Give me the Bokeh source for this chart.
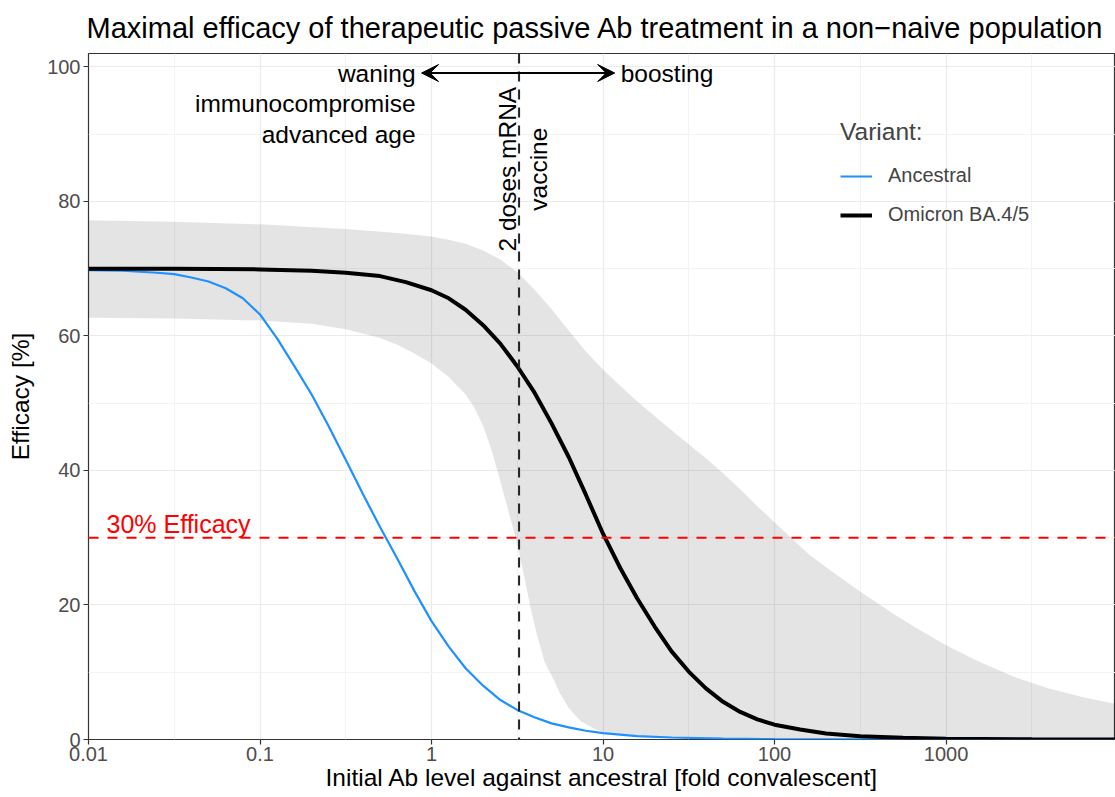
from math import pi
from bokeh.plotting import figure
from bokeh.models import (FixedTicker, Span, Arrow, VeeHead, Label, Legend, LegendItem,
                          Range1d)
from bokeh.core.properties import value
from bokeh.embed import file_html
from bokeh.resources import INLINE

FONT = "Liberation Sans"

# ---------------- data ----------------
x_ticks = [0.01, 0.1, 1, 10, 100, 1000]
x_tick_labels = ["0.01", "0.1", "1", "10", "100", "1000"]
x_minor = [0.0316, 0.316, 3.16, 31.6, 316, 3162]
y_ticks = [0, 20, 40, 60, 80, 100]
y_minor = [10, 30, 50, 70, 90]

# Ancestral variant (median efficacy, %)
anc_x = [0.01, 0.0158, 0.0251, 0.0316, 0.0398, 0.0501, 0.0631, 0.0794, 0.1, 0.126, 0.158,
         0.2, 0.251, 0.316, 0.398, 0.501, 0.631, 0.794, 1, 1.26, 1.58, 2.0, 2.51, 3.16,
         3.98, 5.01, 6.31, 7.94, 10, 15.8, 25.1, 50.1, 100, 1000, 9730]
anc_y = [69.8, 69.7, 69.4, 69.2, 68.7, 68.1, 67.1, 65.6, 63.2, 59.6, 55.6,
         51.3, 46.6, 41.6, 36.5, 31.6, 26.9, 22.1, 17.6, 13.8, 10.6, 8.0, 5.9, 4.4,
         3.3, 2.4, 1.8, 1.3, 0.95, 0.5, 0.3, 0.12, 0.05, 0.0, 0.0]

# Omicron BA.4/5 (median efficacy, %)
omi_x = [0.01, 0.0316, 0.1, 0.2, 0.316, 0.501, 0.708, 1, 1.26, 1.58, 2.0, 2.51, 3.16,
         3.98, 5.01, 6.31, 7.94, 10, 12.6, 15.8, 20, 25.1, 31.6, 39.8, 50.1, 63.1, 79.4,
         100, 141, 200, 316, 562, 1000, 3162, 9730]
omi_y = [70.0, 70.0, 69.9, 69.7, 69.4, 68.9, 68.0, 66.8, 65.6, 63.9, 61.6, 58.9, 55.5,
         51.6, 47.0, 42.0, 36.4, 30.6, 25.5, 21.0, 16.8, 13.1, 10.1, 7.6, 5.6, 4.1, 3.0,
         2.2, 1.5, 0.9, 0.5, 0.25, 0.12, 0.03, 0.0]

# Omicron BA.4/5 uncertainty band (upper / lower edge, %)
band_up_x = [0.01, 0.0316, 0.1, 0.316, 0.631, 1, 1.26, 1.58, 2.0, 2.51, 3.16, 3.98, 5.01,
             6.31, 7.94, 10, 12.6, 15.8, 20, 25.1, 31.6, 39.8, 50.1, 63.1, 79.4, 100, 126,
             158, 200, 251, 316, 398, 501, 631, 794, 1000, 1585, 2512, 3981, 6310, 9730]
band_up_y = [77.2, 77.0, 76.6, 75.9, 75.3, 74.8, 74.3, 73.7, 72.7, 71.4, 69.5, 66.9, 64.0,
             60.8, 57.7, 55.0, 52.6, 50.3, 48.1, 46.0, 43.9, 41.8, 39.6, 37.2, 34.7, 32.3,
             29.9, 27.6, 25.6, 23.8, 22.0, 20.3, 18.6, 17.0, 15.5, 14.0, 11.5, 9.3, 7.6,
             6.3, 5.3]
band_lo_x = [0.01, 0.0316, 0.1, 0.2, 0.316, 0.501, 0.631, 0.794, 1, 1.26, 1.58, 1.78, 2.0,
             2.24, 2.51, 2.82, 3.09, 3.39, 3.8, 4.17, 4.57, 5.13, 5.62, 6.31, 7.41, 8.91,
             10, 14.1, 20, 39.8, 100, 1000, 9730]
band_lo_y = [62.7, 62.6, 62.3, 61.8, 61.0, 59.7, 58.7, 57.4, 55.9, 53.9, 51.3, 49.3, 46.6,
             43.0, 38.5, 33.8, 30.0, 25.5, 19.3, 15.0, 11.5, 9.0, 6.8, 4.7, 2.7, 1.6,
             1.1, 0.6, 0.3, 0.12, 0.05, 0.0, 0.0]

vaccine_level = 3.24
efficacy_threshold = 30
X_MIN, X_MAX = 0.01, 9730
Y_MIN, Y_MAX = 0, 102.0

# ---------------- figure ----------------
p = figure(width=1115, height=797, x_axis_type="log",
           x_range=Range1d(X_MIN, X_MAX), y_range=Range1d(Y_MIN, Y_MAX),
           output_backend="svg", toolbar_location=None,
           min_border_left=88, min_border_right=0, min_border_top=53, min_border_bottom=58,
           title="Maximal efficacy of therapeutic passive Ab treatment in a non\u2212naive population")

p.background_fill_color = "white"
p.border_fill_color = "white"
p.outline_line_color = "#333333"
p.outline_line_width = 1.2

p.title.text_font = FONT
p.title.text_font_size = "29px"
p.title.text_font_style = "normal"
p.title.text_color = "black"
p.title.align = "left"
p.title.offset = -2
p.title.standoff = 19

# axes
p.xaxis.ticker = FixedTicker(ticks=x_ticks, minor_ticks=x_minor)
p.yaxis.ticker = FixedTicker(ticks=y_ticks, minor_ticks=y_minor)
p.xaxis.major_label_overrides = {t: l for t, l in zip(x_ticks, x_tick_labels)}
for ax in (p.xaxis[0], p.yaxis[0]):
    ax.axis_line_color = None
    ax.major_tick_line_color = "#333333"
    ax.major_tick_line_width = 1.2
    ax.major_tick_out = 5
    ax.major_tick_in = 0
    ax.minor_tick_line_color = None
    ax.major_label_text_font = FONT
    ax.major_label_text_font_size = "20px"
    ax.major_label_text_color = "#4D4D4D"
    ax.axis_label_text_font = FONT
    ax.axis_label_text_font_size = "24.5px"
    ax.axis_label_text_font_style = "normal"
    ax.axis_label_text_color = "black"

p.yaxis.axis_label = "Efficacy [%]"
p.yaxis.major_label_standoff = 3
p.yaxis.axis_label_standoff = 10
p.xaxis.axis_label = "Initial Ab level against ancestral [fold convalescent]"
p.xaxis.major_label_standoff = 2
p.xaxis.axis_label_standoff = 0

# grids
for g in (p.xgrid[0], p.ygrid[0]):
    g.grid_line_color = "#EBEBEB"
    g.grid_line_width = 1.2
    g.minor_grid_line_color = "#F3F3F3"
    g.minor_grid_line_width = 1

# band
p.patch(x=band_up_x + band_lo_x[::-1], y=band_up_y + band_lo_y[::-1],
        fill_color="black", fill_alpha=0.105, line_color=None)

# lines
r_anc = p.line(anc_x, anc_y, line_color="#1E90FF", line_width=2.2)
r_omi = p.line(omi_x, omi_y, line_color="black", line_width=4)

# reference lines
p.add_layout(Span(location=vaccine_level, dimension="height", line_color="#222222",
                  line_width=2, line_dash="10 8"))
p.add_layout(Span(location=efficacy_threshold, dimension="width", line_color="#FF0000",
                  line_width=2, line_dash="10 9"))

p.add_layout(Label(x=X_MIN, y=32.1, x_offset=18,
                   text="30% Efficacy", text_color="#FF0000", text_font=FONT,
                   text_font_size="25px", text_align="left", text_baseline="middle"))

# arrow waning <-> boosting
arrow_y = 99.1
arrow_left, arrow_right = 0.875, 11.7
p.add_layout(Arrow(x_start=arrow_left, y_start=arrow_y, x_end=arrow_right, y_end=arrow_y,
                   line_width=2, line_color="black",
                   start=VeeHead(size=17, fill_color="black", line_color="black"),
                   end=VeeHead(size=17, fill_color="black", line_color="black")))

left_notes = ["waning", "immunocompromise", "advanced age"]
left_notes_y = [99.1, 94.5, 90.0]
p.text(x=[arrow_left] * 3, y=left_notes_y, text=left_notes, x_offset=-6,
       text_font=value(FONT), text_font_size="24.5px", text_align="right",
       text_baseline="middle", text_color="black")
p.text(x=[arrow_right], y=[arrow_y], text=["boosting"], x_offset=6,
       text_font=value(FONT), text_font_size="24.5px", text_align="left",
       text_baseline="middle", text_color="black")

# rotated vaccine label
for txt, dx in (("2 doses mRNA", -12), ("vaccine", 19)):
    p.add_layout(Label(x=vaccine_level, y=84.8, x_offset=dx, text=txt, angle=pi / 2,
                       text_font=FONT, text_font_size="24.5px", text_align="center",
                       text_baseline="middle", text_color="black"))

# legend
legend = Legend(items=[LegendItem(label="Ancestral", renderers=[r_anc]),
                       LegendItem(label="Omicron BA.4/5", renderers=[r_omi])],
                location=(752, 513), title="Variant:",
                title_text_font=FONT, title_text_font_size="24.5px",
                title_text_font_style="normal", title_standoff=18,
                label_text_font=FONT, label_text_font_size="20px",
                glyph_width=32, glyph_height=20, label_height=20, label_standoff=16,
                spacing=16, padding=0, margin=0,
                background_fill_alpha=0, border_line_alpha=0)
p.add_layout(legend)

open("out.html", "w").write(file_html(p, INLINE))
